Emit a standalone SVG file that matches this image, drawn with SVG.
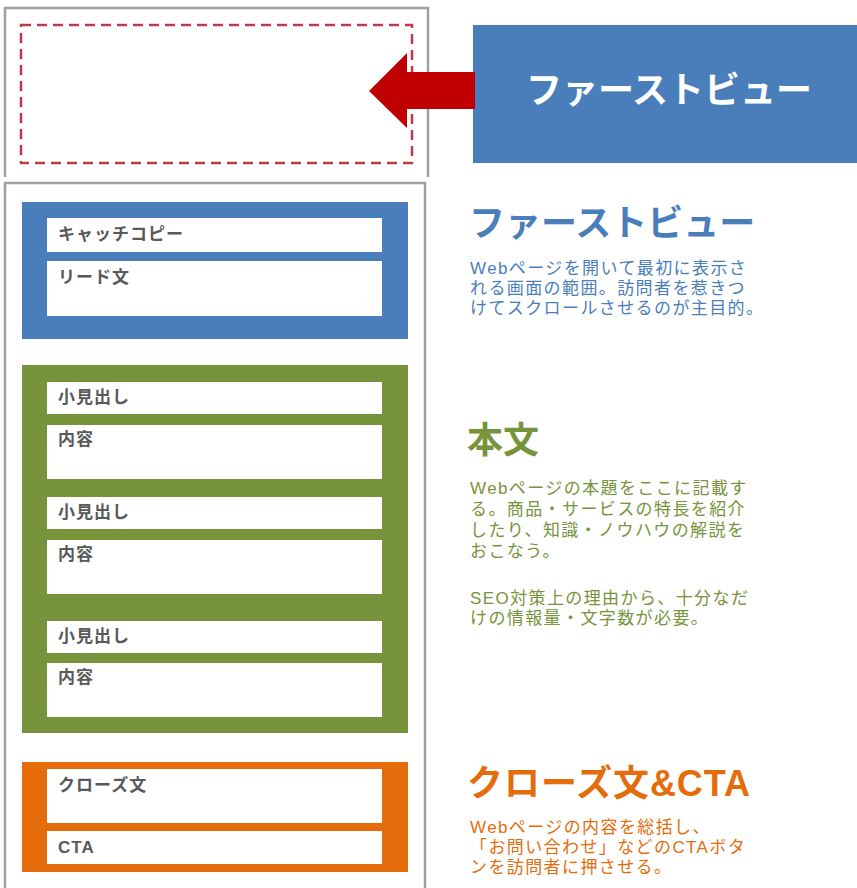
<svg xmlns="http://www.w3.org/2000/svg" width="857" height="888" viewBox="0 0 857 888">
<defs>
<style>
text{font-family:"Liberation Sans","Noto Sans CJK JP",sans-serif;}
.frame{fill:none;stroke:#a0a0a0;stroke-width:2.5;}
.inner{fill:#ffffff;}
.lbl{font-size:17px;font-weight:bold;fill:#595959;letter-spacing:1px;}
.h{font-size:36px;font-weight:bold;}
.b{font-size:17px;letter-spacing:1.4px;}
.blue{fill:#4a7ebb;}
.green{fill:#77933c;}
.orange{fill:#e46c0a;}
</style>
</defs>
<rect x="0" y="0" width="857" height="888" fill="#ffffff"/>

<g id="top-frame">
<path class="frame" d="M5,177 V8 H428 V177"/>
<rect x="21" y="25" width="391" height="138" fill="none" stroke="#c0394b" stroke-width="2.5" stroke-dasharray="10,6"/>
</g>

<g id="fv-label">
<rect x="473" y="25" width="384" height="138" fill="#4a7ebb"/>
<text x="669" y="103" text-anchor="middle" class="h" fill="#ffffff">ファーストビュー</text>
</g>

<g id="connectors">
<polygon points="475,72 407,72 407,53 369,91 407,128 407,109 475,109" fill="#c00000"/>
</g>

<g id="page-frame">
<rect class="frame" x="5" y="183" width="420" height="710"/>
</g>

<g id="sec-fv">
<rect x="22" y="202" width="386" height="137" fill="#4a7ebb"/>
<rect class="inner" x="47" y="218" width="335" height="34"/>
<text class="lbl" x="58" y="240">キャッチコピー</text>
<rect class="inner" x="47" y="261" width="335" height="55"/>
<text class="lbl" x="58" y="283">リード文</text>
</g>

<g id="sec-body">
<rect x="22" y="365" width="386" height="368" fill="#77933c"/>
<rect class="inner" x="47" y="382" width="335" height="32"/>
<text class="lbl" x="58" y="403">小見出し</text>
<rect class="inner" x="47" y="425" width="335" height="54"/>
<text class="lbl" x="58" y="445">内容</text>
<rect class="inner" x="47" y="497" width="335" height="32"/>
<text class="lbl" x="58" y="518">小見出し</text>
<rect class="inner" x="47" y="540" width="335" height="54"/>
<text class="lbl" x="58" y="560">内容</text>
<rect class="inner" x="47" y="621" width="335" height="32"/>
<text class="lbl" x="58" y="642">小見出し</text>
<rect class="inner" x="47" y="663" width="335" height="54"/>
<text class="lbl" x="58" y="683">内容</text>
</g>

<g id="sec-close">
<rect x="22" y="762" width="386" height="110" fill="#e46c0a"/>
<rect class="inner" x="47" y="769" width="335" height="54"/>
<text class="lbl" x="58" y="791">クローズ文</text>
<rect class="inner" x="47" y="831" width="335" height="33"/>
<text class="lbl" x="58" y="853">CTA</text>
</g>

<g id="desc-fv">
<text class="h blue" x="469" y="236">ファーストビュー</text>
<text class="b blue" x="470" y="274">Webページを開いて最初に表示さ</text>
<text class="b blue" x="470" y="294">れる画面の範囲。訪問者を惹きつ</text>
<text class="b blue" x="470" y="314">けてスクロールさせるのが主目的。</text>
</g>

<g id="desc-body">
<text class="h green" x="467" y="453">本文</text>
<text class="b green" x="470" y="494">Webページの本題をここに記載す</text>
<text class="b green" x="470" y="515">る。商品・サービスの特長を紹介</text>
<text class="b green" x="470" y="536">したり、知識・ノウハウの解説を</text>
<text class="b green" x="470" y="557">おこなう。</text>
<text class="b green" x="470" y="604">SEO対策上の理由から、十分なだ</text>
<text class="b green" x="470" y="624">けの情報量・文字数が必要。</text>
</g>

<g id="desc-close">
<text class="h orange" x="467" y="796" textLength="283" lengthAdjust="spacing">クローズ文&amp;CTA</text>
<text class="b orange" x="470" y="833">Webページの内容を総括し、</text>
<text class="b orange" x="470" y="853">「お問い合わせ」などのCTAボタ</text>
<text class="b orange" x="470" y="873">ンを訪問者に押させる。</text>
</g>
</svg>
